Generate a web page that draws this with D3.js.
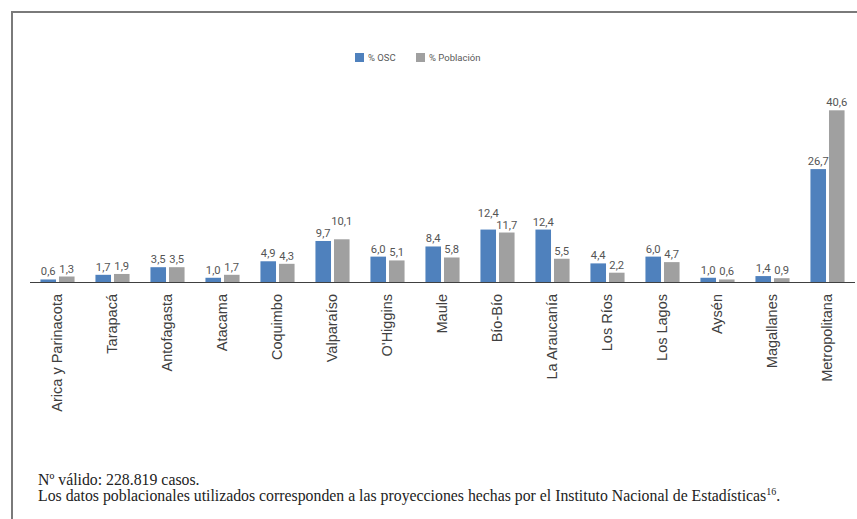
<!DOCTYPE html>
<html lang="es">
<head>
  <meta charset="UTF-8">
  <script src="https://d3js.org/d3.v7.min.js"></script>
  <title>% OSC y % Población por región</title>
  <style>
    body { margin: 0; background: #fff; }
    svg { display: block; }
    .value { font-family: Roboto, "Liberation Sans Narrow", sans-serif; font-size: 11.2px; fill: #555; }
    .legend text { font-family: Roboto, "Liberation Sans Narrow", sans-serif; font-size: 9.5px; fill: #595959; }
    .region { font-family: "Liberation Sans", Arial, sans-serif; font-size: 14.5px; fill: #404040; }
    .note { font-family: "Liberation Serif", "Times New Roman", serif; font-size: 15.8px; fill: #222; }
  </style>
</head>
<body>
  <svg width="857" height="519"></svg>

  <script>
    // regiones y porcentajes
    const regions = ["Arica y Parinacota", "Tarapacá", "Antofagasta", "Atacama", "Coquimbo",
      "Valparaíso", "O'Higgins", "Maule", "Bío-Bío", "La Araucanía", "Los Ríos",
      "Los Lagos", "Aysén", "Magallanes", "Metropolitana"];
    const osc = [0.6, 1.7, 3.5, 1.0, 4.9, 9.7, 6.0, 8.4, 12.4, 12.4, 4.4, 6.0, 1.0, 1.4, 26.7];
    const poblacion = [1.3, 1.9, 3.5, 1.7, 4.3, 10.1, 5.1, 5.8, 11.7, 5.5, 2.2, 4.7, 0.6, 0.9, 40.6];
    const seriesNames = ["% OSC", "% Población"];
    const colors = ["#4f81bd", "#a0a0a0"];

    const svg = d3.select("svg");
    const fmt = d3.formatLocale({ decimal: ",", thousands: ".", grouping: [3], currency: ["$", ""] }).format(".1f");

    // marco
    svg.append("path")
      .attr("d", "M12,530 V12 H870")
      .attr("fill", "none")
      .attr("stroke", "#7a7a7a")
      .attr("stroke-width", 2);

    const x = d3.scaleBand()
      .domain(regions)
      .range([30, 855])
      .paddingInner(0.38)
      .paddingOuter(0.19);

    const xSub = d3.scaleBand()
      .domain(seriesNames)
      .range([0, x.bandwidth()])
      .paddingInner(0.16);

    const y = d3.scaleLinear().domain([0, 45]).range([282, 91.7]);

    const rows = regions.map((r, i) => ({ region: r, values: [osc[i], poblacion[i]] }));

    const groups = svg.selectAll("g.grp")
      .data(rows)
      .enter().append("g")
      .attr("class", "grp")
      .attr("transform", d => `translate(${x(d.region)},0)`);

    const cells = groups.selectAll("g.cell")
      .data(d => d.values.map((v, k) => ({ name: seriesNames[k], v: v, k: k })))
      .enter().append("g")
      .attr("class", "cell");

    cells.append("rect")
      .attr("x", d => xSub(d.name))
      .attr("y", d => y(d.v))
      .attr("width", xSub.bandwidth())
      .attr("height", d => y(0) - y(d.v))
      .attr("fill", d => colors[d.k]);

    cells.append("text")
      .attr("class", "value")
      .attr("x", d => xSub(d.name) + xSub.bandwidth() / 2)
      .attr("y", d => y(d.v) - 4)
      .attr("text-anchor", "middle")
      .text(d => fmt(d.v));

    // si las dos etiquetas de un grupo chocan, subir la del valor mayor
    groups.each(function () {
      const t = d3.select(this).selectAll("text.value").nodes();
      const a = t[0], b = t[1];
      const ya = +a.getAttribute("y"), yb = +b.getAttribute("y");
      const gap = (+b.getAttribute("x")) - (+a.getAttribute("x"));
      const wsum = (a.getComputedTextLength() + b.getComputedTextLength()) / 2;
      if (wsum > gap - 1 && Math.abs(ya - yb) < 11) {
        const hi = ya < yb ? a : b;
        hi.setAttribute("y", Math.max(ya, yb) - 12);
      }
    });

    // eje horizontal
    svg.append("line")
      .attr("x1", 30).attr("x2", 855)
      .attr("y1", y(0) + 0.5).attr("y2", y(0) + 0.5)
      .attr("stroke", "#404040")
      .attr("stroke-width", 1.2);

    svg.selectAll("text.region")
      .data(regions)
      .enter().append("text")
      .attr("class", "region")
      .attr("transform", d => `translate(${x(d) + x.bandwidth() / 2 - 1},294) rotate(-90)`)
      .attr("text-anchor", "end")
      .attr("dy", "0.35em")
      .text(d => d);

    // leyenda
    const legend = svg.append("g").attr("class", "legend");
    const legX = [355, 416];
    seriesNames.forEach((n, i) => {
      legend.append("rect")
        .attr("x", legX[i]).attr("y", 53)
        .attr("width", 9).attr("height", 9)
        .attr("fill", colors[i]);
      legend.append("text")
        .attr("x", legX[i] + 13).attr("y", 61)
        .text(n);
    });

    // notas
    svg.append("text")
      .attr("class", "note")
      .attr("x", 38).attr("y", 485)
      .text("Nº válido: 228.819 casos.");

    const note2 = svg.append("text")
      .attr("class", "note")
      .attr("x", 38).attr("y", 501);
    note2.append("tspan").text("Los datos poblacionales utilizados corresponden a las proyecciones hechas por el Instituto Nacional de Estadísticas");
    note2.append("tspan").attr("dy", -6).attr("font-size", "10px").text("16");
    note2.append("tspan").attr("dy", 6).text(".");
  </script>
</body>
</html>
